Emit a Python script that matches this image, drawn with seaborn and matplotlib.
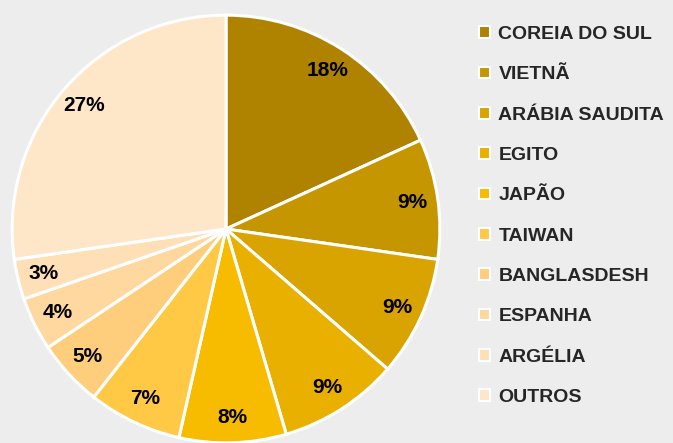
import matplotlib
matplotlib.use("Agg")
import matplotlib.pyplot as plt
from matplotlib.patches import Patch
import seaborn as sns

paises = ["COREIA DO SUL", "VIETNÃ", "ARÁBIA SAUDITA", "EGITO", "JAPÃO",
          "TAIWAN", "BANGLASDESH", "ESPANHA", "ARGÉLIA", "OUTROS"]
participacao = [18, 9, 9, 9, 8, 7, 5, 4, 3, 27]
cores = ["#AF8300", "#C59600", "#D9A300", "#E9B000", "#F7BB00",
         "#FFC845", "#FFCE7C", "#FFD89F", "#FFE0B6", "#FEE6C9"]

sns.set_style("white")
plt.rcParams["font.family"] = ["Liberation Sans", "DejaVu Sans"]

palette = sns.color_palette(cores)

fig = plt.figure(figsize=(6.73, 4.43), dpi=100)
fig.patch.set_facecolor("#EDEDED")

ax = fig.add_axes([10 / 673, -2 / 443, 432 / 673, 432 / 443])
ax.set_facecolor("none")
wedges, texts, autotexts = ax.pie(
    participacao, colors=palette, startangle=90, counterclock=False,
    autopct=lambda p: f"{p:.0f}%", pctdistance=0.88, radius=1,
    wedgeprops={"edgecolor": "white", "linewidth": 2.2},
    textprops={"fontsize": 15, "fontweight": "bold", "color": "black"})
ax.set_xlim(-1.01, 1.01)
ax.set_ylim(-1.01, 1.01)
ax.set_aspect("equal")
ax.axis("off")

handles = [Patch(facecolor=c, edgecolor="white", linewidth=1.5) for c in palette]
leg = fig.legend(handles, paises, loc="upper left",
                 bbox_to_anchor=(479 / 673, 1 - 26 / 443),
                 frameon=False, borderpad=0, borderaxespad=0,
                 handlelength=0.55, handleheight=0.55,
                 handletextpad=0.45, labelspacing=1.2,
                 prop={"size": 14, "weight": "bold"})

plt.savefig("out.png", dpi=100, facecolor=fig.get_facecolor())
